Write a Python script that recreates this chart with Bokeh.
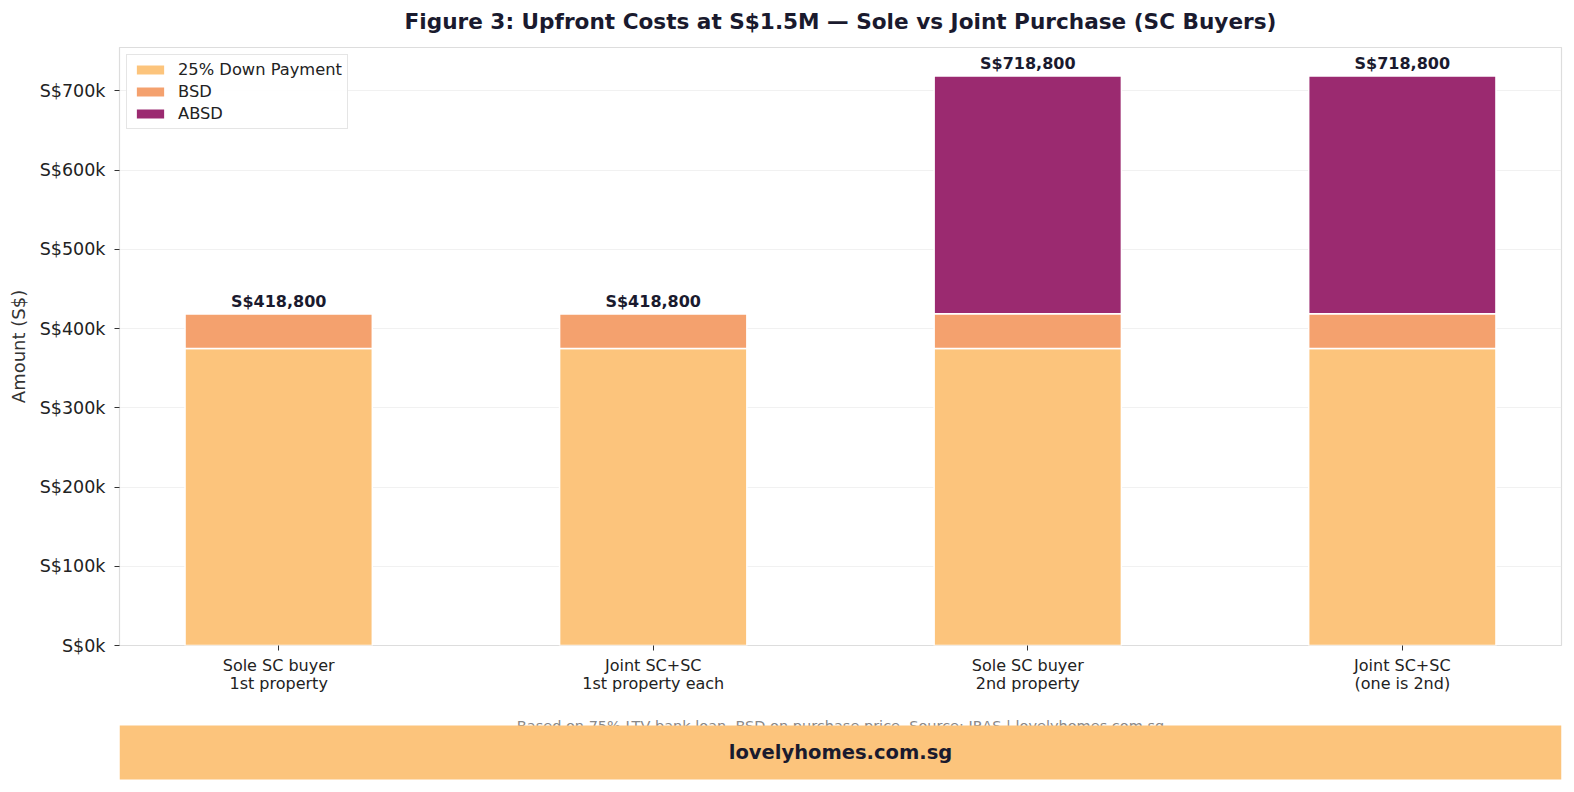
from bokeh.plotting import figure
from bokeh.layouts import column
from bokeh.models import ColumnDataSource, FixedTicker, Range1d
from bokeh.core.properties import value
from bokeh.embed import file_html
from bokeh.resources import INLINE

# ---- data ----
scenarios = ["Sole SC buyer\n1st property", "Joint SC+SC\n1st property each",
             "Sole SC buyer\n2nd property", "Joint SC+SC\n(one is 2nd)"]
down_payment = [375000, 375000, 375000, 375000]
bsd = [43800, 43800, 43800, 43800]
absd = [0, 0, 300000, 300000]
series_names = ["25% Down Payment", "BSD", "ABSD"]
series_colors = ["#FCC47C", "#F4A16E", "#9B2A70"]
y_ticks = [0, 100000, 200000, 300000, 400000, 500000, 600000, 700000]
y_tick_labels = ["S$0k", "S$100k", "S$200k", "S$300k", "S$400k", "S$500k", "S$600k", "S$700k"]

FONT = "DejaVu Sans"
DARK = "#1a1a2e"

xs = list(range(len(scenarios)))
totals = [a + b + c for a, b, c in zip(down_payment, bsd, absd)]
source = ColumnDataSource(dict(x=xs, dp=down_payment, bsd=bsd, absd=absd, total=totals,
                               label=[f"S${t:,}" for t in totals]))

W = 1574
BORDER_L, BORDER_R = 119, 13


def strip(fig):
    """Plain canvas used for header/footer text and bands."""
    fig.axis.visible = False
    fig.grid.visible = False
    fig.border_fill_color = "white"
    fig.background_fill_color = "white"
    return fig


# ---- header: title ----
h = strip(figure(width=W, height=47, output_backend="svg", toolbar_location=None,
                 x_range=Range1d(0, 1), y_range=Range1d(0, 47),
                 min_border_left=BORDER_L, min_border_right=BORDER_R,
                 min_border_top=0, min_border_bottom=0, outline_line_color=None))
h.text(x=[0.5], y=[26], text=["Figure 3: Upfront Costs at S$1.5M \u2014 Sole vs Joint Purchase (SC Buyers)"],
       text_align="center", text_baseline="middle", text_font=value(FONT),
       text_font_size="21.6px", text_font_style="bold", text_color=DARK)

# ---- main stacked bar chart ----
p = figure(width=W, height=663, output_backend="svg", toolbar_location=None,
           x_range=Range1d(-0.425, 3.425), y_range=Range1d(0, max(totals) * 1.05),
           min_border_left=BORDER_L, min_border_right=BORDER_R,
           min_border_top=0, min_border_bottom=65)

p.vbar_stack(["dp", "bsd", "absd"], x="x", width=0.5, source=source,
             color=series_colors, line_color="white", line_width=1.5,
             legend_label=series_names)

p.text(x="x", y="total", text="label", source=source, text_align="center",
       text_baseline="bottom", y_offset=-3, text_font=value(FONT), text_font_size="16px",
       text_font_style="bold", text_color=DARK)

# axes
p.xaxis.ticker = FixedTicker(ticks=xs)
p.xaxis.major_label_overrides = {i: s for i, s in enumerate(scenarios)}
p.xaxis.major_label_text_font = FONT
p.xaxis.major_label_text_font_size = "16px"
p.xaxis.major_label_text_color = "#222222"
p.xaxis.major_label_text_line_height = 0.95
p.xaxis.axis_line_color = None
p.xaxis.major_tick_line_color = "#333333"
p.xaxis.major_tick_out = 5
p.xaxis.major_tick_in = 0
p.xaxis.minor_tick_line_color = None
p.xaxis.major_label_standoff = 5

p.yaxis.ticker = FixedTicker(ticks=y_ticks)
p.yaxis.major_label_overrides = {t: s for t, s in zip(y_ticks, y_tick_labels)}
p.yaxis.major_label_text_font = FONT
p.yaxis.major_label_text_font_size = "17.5px"
p.yaxis.major_label_text_color = "#222222"
p.yaxis.axis_line_color = None
p.yaxis.major_tick_line_color = "#333333"
p.yaxis.major_tick_out = 5
p.yaxis.major_tick_in = 0
p.yaxis.minor_tick_line_color = None
p.yaxis.major_label_standoff = 9
p.yaxis.axis_label = "Amount (S$)"
p.yaxis.axis_label_text_font = FONT
p.yaxis.axis_label_text_font_size = "18px"
p.yaxis.axis_label_text_font_style = "normal"
p.yaxis.axis_label_text_color = "#333333"
p.yaxis.axis_label_standoff = 8

p.xgrid.grid_line_color = None
p.ygrid.grid_line_color = "#eeeeee"
p.ygrid.grid_line_width = 0.8

p.outline_line_color = "#dddddd"
p.outline_line_width = 1.2
p.background_fill_color = "white"
p.border_fill_color = "white"

# legend
p.legend.location = "top_left"
p.legend.label_text_font = FONT
p.legend.label_text_font_size = "16.3px"
p.legend.label_text_color = "#222222"
p.legend.glyph_width = 36
p.legend.glyph_height = 13
p.legend.label_height = 19
p.legend.spacing = 3
p.legend.padding = 5
p.legend.margin = 7
p.legend.border_line_color = "#cccccc"
p.legend.border_line_width = 1.5
p.legend.background_fill_alpha = 0.9
p.legend.label_standoff = 10

# ---- footer: caption and brand band ----
f = strip(figure(width=W, height=82, output_backend="svg", toolbar_location=None,
                 x_range=Range1d(0, 1), y_range=Range1d(0, 82),
                 min_border_left=BORDER_L, min_border_right=BORDER_R,
                 min_border_top=0, min_border_bottom=0, outline_line_color=None))

f.text(x=[0.5], y=[67], text=["Based on 75% LTV bank loan. BSD on purchase price. Source: IRAS | lovelyhomes.com.sg"],
       text_align="center", text_baseline="alphabetic", text_font=value(FONT), text_font_size="14.5px",
       text_color="#888888")
f.quad(left=[0], right=[1], bottom=[13], top=[67], fill_color="#FCC47C", line_color=None)
f.text(x=[0.5], y=[40], text=["lovelyhomes.com.sg"], text_align="center", text_baseline="middle",
       text_font=value(FONT), text_font_size="19.5px", text_font_style="bold", text_color=DARK)

layout = column(h, p, f, spacing=0)
open("out.html", "w").write(file_html(layout, INLINE))
